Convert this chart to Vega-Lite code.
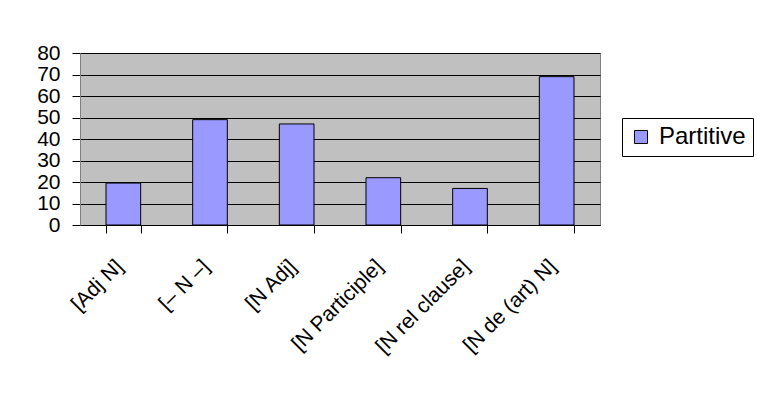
{
  "$schema": "https://vega.github.io/schema/vega-lite/v6.json",
  "autosize": "none",
  "width": 520,
  "height": 172,
  "padding": {"left": 80, "top": 53, "right": 157, "bottom": 176},
  "background": "white",
  "data": {
    "values": [
      {"category": "[Adj N]", "series": "Partitive", "value": 19.5},
      {"category": "[– N –]", "series": "Partitive", "value": 49},
      {"category": "[N Adj]", "series": "Partitive", "value": 47},
      {"category": "[N Participle]", "series": "Partitive", "value": 22},
      {"category": "[N rel clause]", "series": "Partitive", "value": 17},
      {"category": "[N de (art) N]", "series": "Partitive", "value": 69}
    ]
  },
  "mark": {"type": "bar", "stroke": "black", "strokeWidth": 1},
  "encoding": {
    "x": {
      "field": "category",
      "type": "nominal",
      "sort": null,
      "scale": {"paddingInner": 0.6, "paddingOuter": 0.3},
      "axis": {
        "title": null,
        "labelAngle": -45,
        "labelAlign": "right",
        "labelBaseline": "middle",
        "labelFontSize": 21,
        "labelFont": "Liberation Sans",
        "labelColor": "black",
        "labelPadding": 30,
        "labelOffset": -4,
        "tickBand": "extent",
        "tickSize": 8,
        "tickColor": "black",
        "domainColor": "black",
        "grid": false
      }
    },
    "y": {
      "field": "value",
      "type": "quantitative",
      "scale": {"domain": [0, 80], "nice": false},
      "axis": {
        "title": null,
        "values": [0, 10, 20, 30, 40, 50, 60, 70, 80],
        "labelFontSize": 21,
        "labelFont": "Liberation Sans",
        "labelColor": "black",
        "labelPadding": 12,
        "tickSize": 8,
        "tickColor": "black",
        "domainColor": "#808080",
        "grid": true,
        "gridColor": "black",
        "gridOpacity": 1,
        "gridWidth": 1
      }
    },
    "color": {
      "field": "series",
      "type": "nominal",
      "scale": {"range": ["#9999FF"]},
      "legend": {
        "title": null,
        "orient": "none",
        "legendX": 542,
        "legendY": 65,
        "symbolType": "square",
        "symbolSize": 170,
        "symbolStrokeColor": "black",
        "symbolStrokeWidth": 1,
        "symbolOpacity": 1,
        "labelFontSize": 24,
        "labelFont": "Liberation Sans",
        "labelColor": "black",
        "labelOffset": 6,
        "strokeColor": "black",
        "padding": 7,
        "fillColor": "white"
      }
    }
  },
  "config": {
    "view": {"fill": "#C0C0C0", "stroke": "#808080"}
  }
}
